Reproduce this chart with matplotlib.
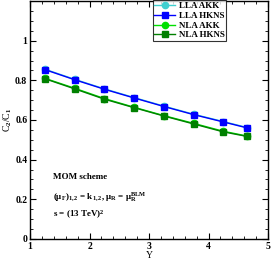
import numpy as np
import matplotlib.pyplot as plt
from matplotlib.ticker import MultipleLocator

plt.rcParams['font.family'] = ['Liberation Serif', 'DejaVu Serif']
plt.rcParams['font.weight'] = 'bold'
plt.rcParams['mathtext.fontset'] = 'custom'
plt.rcParams['mathtext.rm'] = 'Liberation Serif:bold'
plt.rcParams['mathtext.it'] = 'Liberation Serif:bold'
plt.rcParams['mathtext.bf'] = 'Liberation Serif:bold'

Y = [1.25, 1.75, 2.25, 2.75, 3.25, 3.75, 4.25, 4.65]
lla_akk = [0.856, 0.805, 0.757, 0.713, 0.670, 0.629, 0.592, 0.562]
lla_hkns = [0.854, 0.803, 0.755, 0.711, 0.668, 0.627, 0.590, 0.560]
nla_akk = [0.810, 0.760, 0.708, 0.664, 0.622, 0.583, 0.543, 0.519]
nla_hkns = [0.808, 0.757, 0.705, 0.662, 0.620, 0.580, 0.540, 0.517]

fig = plt.figure(figsize=(2.71, 2.6), dpi=100)
ax = fig.add_axes([0.111, 0.081, 0.878, 0.915])

ax.plot(Y, lla_akk, '-o', color='#40d0d0', ms=4.5, lw=1, label='LLA AKK')
ax.plot(Y, lla_hkns, '-s', color='#0000ff', ms=4, lw=1, label='LLA HKNS')
ax.plot(Y, nla_akk, '-o', color='#00e000', ms=4.5, lw=1, label='NLA AKK')
ax.plot(Y, nla_hkns, '-s', color='#008000', ms=4, lw=1, label='NLA HKNS')

ax.set_xlim(1, 5)
ax.set_ylim(0, 1.2)
ax.set_xticks([1, 2, 3, 4, 5])
ax.set_yticks([0, 0.2, 0.4, 0.6, 0.8, 1])
ax.set_yticklabels(['0', '0.2', '0.4', '0.6', '0.8', '1'])
ax.xaxis.set_minor_locator(MultipleLocator(0.2))
ax.yaxis.set_minor_locator(MultipleLocator(0.05))
ax.tick_params(which='both', direction='in', top=True, right=True, labelsize=7, pad=2)
ax.tick_params(which='major', length=4)
ax.tick_params(which='minor', length=2)
for s in ax.spines.values():
    s.set_linewidth(1)

ax.set_xlabel('Y', fontsize=7, labelpad=0)
ax.set_ylabel(r'C$_2$/C$_1$', fontsize=7, labelpad=1)

leg = ax.legend(loc='upper left', bbox_to_anchor=(0.515, 1.003), fontsize=6.5,
                frameon=True, fancybox=False, edgecolor='black', handlelength=2.3,
                borderpad=0.2, labelspacing=0.15, handletextpad=0.4,
                borderaxespad=0)
leg.get_frame().set_linewidth(0.8)

ax.text(0.095, 0.25, 'MOM scheme', transform=ax.transAxes, fontsize=6.5)
ax.text(0.095, 0.165, r'($\mu_F$)$_{1,2}$ = k$_{1,2}$, $\mu_R$ = $\mu_R^{BLM}$',
        transform=ax.transAxes, fontsize=6.5)
ax.text(0.095, 0.09, r's = (13 TeV)$^2$', transform=ax.transAxes, fontsize=6.5)

fig.savefig('out.png', dpi=100)
